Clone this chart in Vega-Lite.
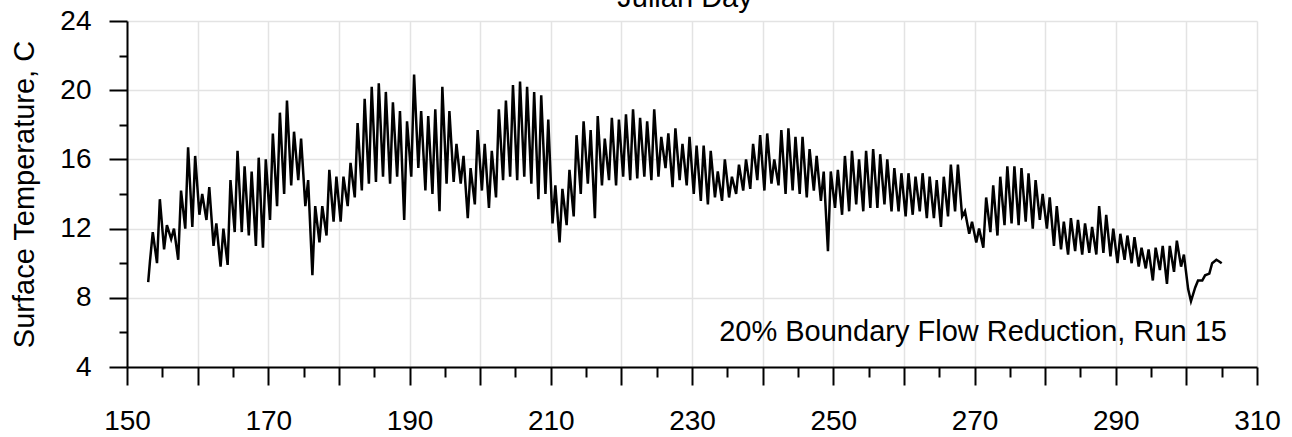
{
  "$schema": "https://vega.github.io/schema/vega-lite/v6.json",
  "autosize": "none",
  "width": 1130,
  "height": 346,
  "padding": {"left": 127, "top": 21, "right": 35, "bottom": 70},
  "background": "white",
  "title": {"text": "Julian Day", "frame": "group", "anchor": "middle", "offset": 0, "baseline": "alphabetic", "fontSize": 29, "fontWeight": "normal", "font": "Liberation Sans", "color": "black", "dx": -7, "dy": 29},
  "config": {
    "view": {"stroke": null},
    "font": "Liberation Sans",
    "axis": {"labelFont": "Liberation Sans", "titleFont": "Liberation Sans", "labelColor": "black", "titleColor": "black", "tickColor": "black", "domainColor": "black", "labelFlush": false, "labelOverlap": false, "gridColor": "#e3e3e3", "gridWidth": 1.5}
  },
  "datasets": {
    "temp": [
      {"d":153.0,"t":8.9},
      {"d":153.25,"t":10.1},{"d":153.65,"t":11.8},
      {"d":154.25,"t":10.0},{"d":154.65,"t":13.7},
      {"d":155.25,"t":10.8},{"d":155.65,"t":12.2},
      {"d":156.25,"t":11.4},{"d":156.65,"t":12.0},
      {"d":157.25,"t":10.2},{"d":157.65,"t":14.2},
      {"d":158.25,"t":12.0},{"d":158.65,"t":16.7},
      {"d":159.25,"t":12.1},{"d":159.65,"t":16.2},
      {"d":160.25,"t":12.8},{"d":160.65,"t":14.0},
      {"d":161.25,"t":12.5},{"d":161.65,"t":14.4},
      {"d":162.25,"t":11.0},{"d":162.65,"t":12.3},
      {"d":163.25,"t":9.8},{"d":163.65,"t":12.0},
      {"d":164.25,"t":9.9},{"d":164.65,"t":14.8},
      {"d":165.25,"t":11.8},{"d":165.65,"t":16.5},
      {"d":166.25,"t":11.8},{"d":166.65,"t":15.6},
      {"d":167.25,"t":11.6},{"d":167.65,"t":15.3},
      {"d":168.25,"t":11.0},{"d":168.65,"t":16.1},
      {"d":169.25,"t":10.9},{"d":169.65,"t":16.0},
      {"d":170.25,"t":12.5},{"d":170.65,"t":17.5},
      {"d":171.25,"t":13.3},{"d":171.65,"t":18.7},
      {"d":172.25,"t":14.0},{"d":172.65,"t":19.4},
      {"d":173.25,"t":14.5},{"d":173.65,"t":17.6},
      {"d":174.25,"t":14.8},{"d":174.65,"t":17.2},
      {"d":175.25,"t":13.3},{"d":175.65,"t":14.8},
      {"d":176.25,"t":9.3},{"d":176.65,"t":13.3},
      {"d":177.25,"t":11.2},{"d":177.65,"t":13.3},
      {"d":178.25,"t":11.6},{"d":178.65,"t":15.4},
      {"d":179.25,"t":12.4},{"d":179.65,"t":15.0},
      {"d":180.25,"t":12.4},{"d":180.65,"t":15.0},
      {"d":181.25,"t":13.3},{"d":181.65,"t":15.8},
      {"d":182.25,"t":13.8},{"d":182.65,"t":18.1},
      {"d":183.25,"t":14.2},{"d":183.65,"t":19.5},
      {"d":184.25,"t":14.6},{"d":184.65,"t":20.2},
      {"d":185.25,"t":14.7},{"d":185.65,"t":20.4},
      {"d":186.25,"t":15.0},{"d":186.65,"t":19.9},
      {"d":187.25,"t":14.6},{"d":187.65,"t":19.3},
      {"d":188.25,"t":15.0},{"d":188.65,"t":18.8},
      {"d":189.25,"t":12.5},{"d":189.65,"t":18.2},
      {"d":190.25,"t":15.0},{"d":190.65,"t":20.9},
      {"d":191.25,"t":15.5},{"d":191.65,"t":18.8},
      {"d":192.25,"t":14.2},{"d":192.65,"t":18.5},
      {"d":193.25,"t":14.0},{"d":193.65,"t":18.9},
      {"d":194.25,"t":13.0},{"d":194.65,"t":20.2},
      {"d":195.25,"t":14.6},{"d":195.65,"t":18.8},
      {"d":196.25,"t":14.7},{"d":196.65,"t":16.9},
      {"d":197.25,"t":14.6},{"d":197.65,"t":16.2},
      {"d":198.25,"t":12.6},{"d":198.65,"t":15.5},
      {"d":199.25,"t":13.4},{"d":199.65,"t":17.7},
      {"d":200.25,"t":14.2},{"d":200.65,"t":16.9},
      {"d":201.25,"t":13.2},{"d":201.65,"t":16.5},
      {"d":202.25,"t":13.8},{"d":202.65,"t":18.9},
      {"d":203.25,"t":14.8},{"d":203.65,"t":19.4},
      {"d":204.25,"t":15.0},{"d":204.65,"t":20.3},
      {"d":205.25,"t":14.8},{"d":205.65,"t":20.5},
      {"d":206.25,"t":15.0},{"d":206.65,"t":20.2},
      {"d":207.25,"t":14.6},{"d":207.65,"t":19.9},
      {"d":208.25,"t":13.7},{"d":208.65,"t":19.7},
      {"d":209.25,"t":14.0},{"d":209.65,"t":18.3},
      {"d":210.25,"t":12.3},{"d":210.65,"t":14.5},
      {"d":211.25,"t":11.2},{"d":211.65,"t":14.3},
      {"d":212.25,"t":12.2},{"d":212.65,"t":15.4},
      {"d":213.25,"t":12.7},{"d":213.65,"t":17.4},
      {"d":214.25,"t":14.0},{"d":214.65,"t":18.2},
      {"d":215.25,"t":14.6},{"d":215.65,"t":17.7},
      {"d":216.25,"t":12.6},{"d":216.65,"t":18.5},
      {"d":217.25,"t":14.5},{"d":217.65,"t":17.2},
      {"d":218.25,"t":14.8},{"d":218.65,"t":18.4},
      {"d":219.25,"t":14.5},{"d":219.65,"t":18.3},
      {"d":220.25,"t":15.0},{"d":220.65,"t":18.6},
      {"d":221.25,"t":14.8},{"d":221.65,"t":18.9},
      {"d":222.25,"t":14.9},{"d":222.65,"t":18.4},
      {"d":223.25,"t":15.0},{"d":223.65,"t":18.2},
      {"d":224.25,"t":14.8},{"d":224.65,"t":18.9},
      {"d":225.25,"t":15.0},{"d":225.65,"t":17.3},
      {"d":226.25,"t":15.5},{"d":226.65,"t":17.5},
      {"d":227.25,"t":14.4},{"d":227.65,"t":17.8},
      {"d":228.25,"t":14.8},{"d":228.65,"t":16.9},
      {"d":229.25,"t":14.5},{"d":229.65,"t":17.3},
      {"d":230.25,"t":14.0},{"d":230.65,"t":16.8},
      {"d":231.25,"t":13.6},{"d":231.65,"t":16.8},
      {"d":232.25,"t":13.4},{"d":232.65,"t":16.5},
      {"d":233.25,"t":13.8},{"d":233.65,"t":15.3},
      {"d":234.25,"t":13.6},{"d":234.65,"t":16.0},
      {"d":235.25,"t":13.8},{"d":235.65,"t":15.0},
      {"d":236.25,"t":14.0},{"d":236.65,"t":15.7},
      {"d":237.25,"t":14.2},{"d":237.65,"t":16.0},
      {"d":238.25,"t":14.3},{"d":238.65,"t":16.9},
      {"d":239.25,"t":14.8},{"d":239.65,"t":17.4},
      {"d":240.25,"t":14.2},{"d":240.65,"t":17.5},
      {"d":241.25,"t":14.6},{"d":241.65,"t":16.0},
      {"d":242.25,"t":14.5},{"d":242.65,"t":17.7},
      {"d":243.25,"t":14.0},{"d":243.65,"t":17.8},
      {"d":244.25,"t":14.2},{"d":244.65,"t":17.3},
      {"d":245.25,"t":14.0},{"d":245.65,"t":17.3},
      {"d":246.25,"t":13.8},{"d":246.65,"t":16.6},
      {"d":247.25,"t":14.2},{"d":247.65,"t":16.2},
      {"d":248.25,"t":13.6},{"d":248.65,"t":15.3},
      {"d":249.25,"t":10.7},{"d":249.65,"t":15.3},
      {"d":250.25,"t":13.2},{"d":250.65,"t":15.4},
      {"d":251.25,"t":12.8},{"d":251.65,"t":16.2},
      {"d":252.25,"t":13.0},{"d":252.65,"t":16.5},
      {"d":253.25,"t":13.4},{"d":253.65,"t":16.0},
      {"d":254.25,"t":13.0},{"d":254.65,"t":16.5},
      {"d":255.25,"t":13.2},{"d":255.65,"t":16.6},
      {"d":256.25,"t":13.2},{"d":256.65,"t":16.3},
      {"d":257.25,"t":13.4},{"d":257.65,"t":16.0},
      {"d":258.25,"t":13.0},{"d":258.65,"t":15.5},
      {"d":259.25,"t":13.0},{"d":259.65,"t":15.2},
      {"d":260.25,"t":12.7},{"d":260.65,"t":15.2},
      {"d":261.25,"t":12.8},{"d":261.65,"t":15.0},
      {"d":262.25,"t":13.0},{"d":262.65,"t":15.2},
      {"d":263.25,"t":12.6},{"d":263.65,"t":15.0},
      {"d":264.25,"t":12.6},{"d":264.65,"t":14.8},
      {"d":265.25,"t":12.1},{"d":265.65,"t":15.0},
      {"d":266.25,"t":12.7},{"d":266.65,"t":15.7},
      {"d":267.25,"t":13.0},{"d":267.65,"t":15.7},
      {"d":268.25,"t":12.7},{"d":268.65,"t":13.0},
      {"d":269.25,"t":11.7},{"d":269.65,"t":12.4},
      {"d":270.25,"t":11.2},{"d":270.65,"t":12.0},
      {"d":271.25,"t":10.9},{"d":271.65,"t":13.8},
      {"d":272.25,"t":11.8},{"d":272.65,"t":14.5},
      {"d":273.25,"t":11.6},{"d":273.65,"t":15.0},
      {"d":274.25,"t":12.2},{"d":274.65,"t":15.6},
      {"d":275.25,"t":12.3},{"d":275.65,"t":15.6},
      {"d":276.25,"t":12.2},{"d":276.65,"t":15.5},
      {"d":277.25,"t":12.4},{"d":277.65,"t":15.2},
      {"d":278.25,"t":12.0},{"d":278.65,"t":14.8},
      {"d":279.25,"t":12.5},{"d":279.65,"t":14.0},
      {"d":280.25,"t":12.0},{"d":280.65,"t":13.8},
      {"d":281.25,"t":11.0},{"d":281.65,"t":13.3},
      {"d":282.25,"t":10.8},{"d":282.65,"t":12.4},
      {"d":283.25,"t":10.5},{"d":283.65,"t":12.6},
      {"d":284.25,"t":10.7},{"d":284.65,"t":12.5},
      {"d":285.25,"t":10.5},{"d":285.65,"t":12.3},
      {"d":286.25,"t":10.6},{"d":286.65,"t":12.1},
      {"d":287.25,"t":10.5},{"d":287.65,"t":13.3},
      {"d":288.25,"t":10.6},{"d":288.65,"t":12.8},
      {"d":289.25,"t":10.4},{"d":289.65,"t":12.0},
      {"d":290.25,"t":10.0},{"d":290.65,"t":11.7},
      {"d":291.25,"t":10.2},{"d":291.65,"t":11.6},
      {"d":292.25,"t":10.0},{"d":292.65,"t":11.5},
      {"d":293.25,"t":9.8},{"d":293.65,"t":10.9},
      {"d":294.25,"t":9.7},{"d":294.65,"t":10.8},
      {"d":295.25,"t":9.0},{"d":295.65,"t":10.9},
      {"d":296.25,"t":9.6},{"d":296.65,"t":11.0},
      {"d":297.25,"t":8.8},{"d":297.65,"t":11.0},
      {"d":298.25,"t":9.5},{"d":298.65,"t":11.3},
      {"d":299.25,"t":9.8},{"d":299.65,"t":10.5},
      {"d":300.25,"t":8.5},{"d":300.65,"t":7.8},
      {"d":301.25,"t":8.6},{"d":301.65,"t":9.0},
      {"d":302.25,"t":9.0},{"d":302.65,"t":9.3},
      {"d":303.25,"t":9.4},{"d":303.65,"t":10.0},
      {"d":304.25,"t":10.2},{"d":304.65,"t":10.1},
      {"d":305.0,"t":10.0}
    ],
    "note": [
      {"x": 305.75, "y": 5.5, "label": "20% Boundary Flow Reduction, Run 15"}
    ]
  },
  "resolve": {"axis": {"x": "independent", "y": "independent"}},
  "layer": [
    {
      "data": {"name": "temp"},
      "mark": {"type": "line", "color": "black", "strokeWidth": 2.5},
      "encoding": {
        "x": {"field": "d", "type": "quantitative",
          "scale": {"domain": [150, 310], "nice": false, "zero": false},
          "axis": {"orient": "bottom", "title": null, "values": [150,160,170,180,190,200,210,220,230,240,250,260,270,280,290,300,310],
            "tickSize": 18, "tickWidth": 2, "domainWidth": 2, "grid": true, "labelFontSize": 28, "labelPadding": 22,
            "labelExpr": "datum.value % 20 == 10 ? datum.label : ''"}},
        "y": {"field": "t", "type": "quantitative",
          "scale": {"domain": [4, 24], "nice": false, "zero": false},
          "axis": {"orient": "left", "title": "Surface Temperature, C", "values": [4,8,12,16,20,24],
            "tickSize": 18, "tickWidth": 2, "domainWidth": 2, "grid": true, "labelFontSize": 28, "labelPadding": 18,
            "titleFontSize": 29, "titleFontWeight": "normal", "titlePadding": 20}}
      }
    },
    {
      "data": {"name": "note"},
      "mark": {"type": "text", "align": "right", "baseline": "alphabetic", "fontSize": 29, "font": "Liberation Sans", "color": "black"},
      "encoding": {
        "x": {"field": "x", "type": "quantitative",
          "scale": {"domain": [150, 310], "nice": false, "zero": false},
          "axis": {"orient": "bottom", "title": null, "values": [155,165,175,185,195,205,215,225,235,245,255,265,275,285,295,305],
            "tickSize": 10, "tickWidth": 2, "domain": false, "grid": false, "labels": false}},
        "y": {"field": "y", "type": "quantitative",
          "scale": {"domain": [4, 24], "nice": false, "zero": false},
          "axis": {"orient": "left", "title": null, "values": [6,10,14,18,22],
            "tickSize": 8, "tickWidth": 2, "domain": false, "grid": false, "labels": false}},
        "text": {"field": "label"}
      }
    }
  ]
}
